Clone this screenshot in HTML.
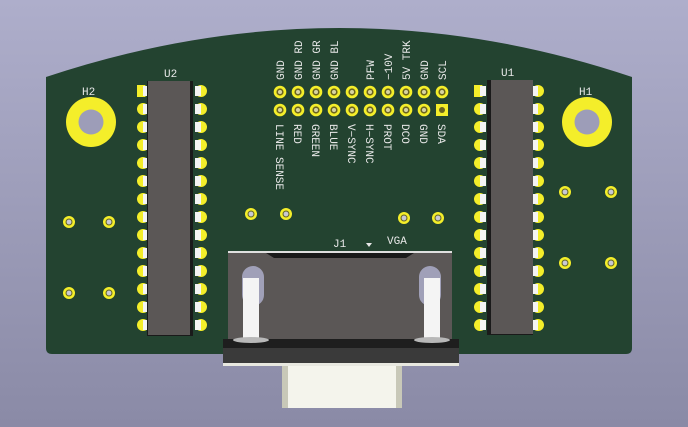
<!DOCTYPE html>
<html><head><meta charset="utf-8"><style>
html,body{margin:0;padding:0;width:688px;height:427px;overflow:hidden}
body{background:linear-gradient(#aeaecb,#8a8aa6)}
svg{display:block}
text{font-family:"Liberation Mono","DejaVu Sans Mono",monospace;font-size:11px;fill:#e8e8e8}
</style></head><body>
<svg width="688" height="427" viewBox="0 0 688 427" xmlns="http://www.w3.org/2000/svg">
<defs>
<g id="via"><circle r="6" fill="#f4ee2a"/><circle r="3.5" fill="#6a6a2a"/><circle r="2.4" fill="#c8c8d4"/></g>
<g id="hp"><circle r="6.3" fill="#f4ee2a"/><circle r="3.6" fill="#6b6420"/><circle r="2" fill="#d8d4a0"/></g>
<g id="pinL"><circle cx="-1" cy="0" r="6" fill="#f4ee2a"/><rect x="-1" y="-5" width="6" height="10" fill="#f4f4f4"/></g>
<g id="pinR"><circle cx="1" cy="0" r="6" fill="#f4ee2a"/><rect x="-5" y="-5" width="6" height="10" fill="#f4f4f4"/></g>
</defs>
<path d="M46,77 Q340,-21 632,77 L632,348 Q632,354 626,354 L52,354 Q46,354 46,348 Z" fill="#234330"/>
<circle cx="91" cy="122" r="25" fill="#f4ee2a"/><circle cx="91" cy="122" r="12.5" fill="#9d9db8"/>
<circle cx="587" cy="122" r="25" fill="#f4ee2a"/><circle cx="587" cy="122" r="12.5" fill="#9d9db8"/>
<text x="82" y="95">H2</text><text x="579" y="95">H1</text>
<use href="#via" x="69" y="222"/><use href="#via" x="109" y="222"/><use href="#via" x="69" y="293"/><use href="#via" x="109" y="293"/>
<use href="#via" x="565" y="192"/><use href="#via" x="611" y="192"/><use href="#via" x="565" y="263"/><use href="#via" x="611" y="263"/>
<use href="#via" x="251" y="214"/><use href="#via" x="286" y="214"/><use href="#via" x="404" y="218"/><use href="#via" x="438" y="218"/>
<!-- U2 -->
<g id="u2L">
<use href="#pinL" x="144" y="91"/><use href="#pinL" x="144" y="109"/><use href="#pinL" x="144" y="127"/><use href="#pinL" x="144" y="145"/><use href="#pinL" x="144" y="163"/><use href="#pinL" x="144" y="181"/><use href="#pinL" x="144" y="199"/><use href="#pinL" x="144" y="217"/><use href="#pinL" x="144" y="235"/><use href="#pinL" x="144" y="253"/><use href="#pinL" x="144" y="271"/><use href="#pinL" x="144" y="289"/><use href="#pinL" x="144" y="307"/><use href="#pinL" x="144" y="325"/>
</g>
<g id="u2R">
<use href="#pinR" x="200" y="91"/><use href="#pinR" x="200" y="109"/><use href="#pinR" x="200" y="127"/><use href="#pinR" x="200" y="145"/><use href="#pinR" x="200" y="163"/><use href="#pinR" x="200" y="181"/><use href="#pinR" x="200" y="199"/><use href="#pinR" x="200" y="217"/><use href="#pinR" x="200" y="235"/><use href="#pinR" x="200" y="253"/><use href="#pinR" x="200" y="271"/><use href="#pinR" x="200" y="289"/><use href="#pinR" x="200" y="307"/><use href="#pinR" x="200" y="325"/>
</g>
<rect x="137" y="85" width="8" height="12" fill="#f4ee2a"/><rect x="143" y="86" width="6" height="10" fill="#f4f4f4"/>
<rect x="147" y="81" width="46" height="255" fill="#1a1a1a"/>
<rect x="148" y="81" width="42" height="254" fill="#5b5756"/>
<text x="164" y="77">U2</text>
<!-- U1 -->
<use href="#u2L" transform="translate(337,0)"/>
<use href="#u2R" transform="translate(337,0)"/>
<rect x="474" y="85" width="8" height="12" fill="#f4ee2a"/><rect x="480" y="86" width="6" height="10" fill="#f4f4f4"/>
<rect x="487" y="80" width="46" height="255" fill="#1a1a1a"/>
<rect x="491" y="80" width="42" height="254" fill="#5b5756"/>
<text x="501" y="76">U1</text>
<!-- header -->
<g>
<use href="#hp" x="280" y="92"/><use href="#hp" x="298" y="92"/><use href="#hp" x="316" y="92"/><use href="#hp" x="334" y="92"/><use href="#hp" x="352" y="92"/><use href="#hp" x="370" y="92"/><use href="#hp" x="388" y="92"/><use href="#hp" x="406" y="92"/><use href="#hp" x="424" y="92"/><use href="#hp" x="442" y="92"/>
<use href="#hp" x="280" y="110"/><use href="#hp" x="298" y="110"/><use href="#hp" x="316" y="110"/><use href="#hp" x="334" y="110"/><use href="#hp" x="352" y="110"/><use href="#hp" x="370" y="110"/><use href="#hp" x="388" y="110"/><use href="#hp" x="406" y="110"/><use href="#hp" x="424" y="110"/>
<rect x="436" y="104" width="12" height="12" fill="#f4ee2a"/><circle cx="442" cy="110" r="3" fill="#6b6420"/>
</g>
<g>
<text transform="translate(284,80) rotate(-90)">GND</text>
<text transform="translate(302,80) rotate(-90)">GND RD</text>
<text transform="translate(320,80) rotate(-90)">GND GR</text>
<text transform="translate(338,80) rotate(-90)">GND BL</text>
<text transform="translate(374,80) rotate(-90)">PFW</text>
<text transform="translate(392,80) rotate(-90)">−10V</text>
<text transform="translate(410,80) rotate(-90)">5V TRK</text>
<text transform="translate(428,80) rotate(-90)">GND</text>
<text transform="translate(446,80) rotate(-90)">SCL</text>
<text transform="translate(276,124) rotate(90)">LINE SENSE</text>
<text transform="translate(294,124) rotate(90)">RED</text>
<text transform="translate(312,124) rotate(90)">GREEN</text>
<text transform="translate(330,124) rotate(90)">BLUE</text>
<text transform="translate(348,124) rotate(90)">V−SYNC</text>
<text transform="translate(366,124) rotate(90)">H−SYNC</text>
<text transform="translate(384,124) rotate(90)">PROT</text>
<text transform="translate(402,124) rotate(90)">DCO</text>
<text transform="translate(420,124) rotate(90)">GND</text>
<text transform="translate(438,124) rotate(90)">SDA</text>
</g>
<!-- VGA connector -->
<text x="333" y="247">J1</text><text x="387" y="244">VGA</text>
<path d="M366,243 L372,243 L369,247 Z" fill="#e8e8e8"/>
<rect x="282" y="362" width="120" height="46" rx="3" fill="#f4f4ec"/>
<rect x="282" y="362" width="6" height="46" fill="#c8c8b8"/><rect x="396" y="362" width="6" height="46" fill="#c8c8b8"/>
<rect x="228" y="251" width="224" height="100" fill="#5b5756"/>
<rect x="228" y="251" width="224" height="2" fill="#e0e0e0"/>
<path d="M266,253 L414,253 L406,258 L274,258 Z" fill="#1a1a1a"/>
<rect x="242" y="266" width="22" height="40" rx="11" fill="#a0a0b8"/>
<rect x="419" y="266" width="22" height="40" rx="11" fill="#a0a0b8"/>
<rect x="243" y="278" width="16" height="62" fill="#f4f4f4"/>
<rect x="424" y="278" width="16" height="62" fill="#f4f4f4"/>
<rect x="223" y="339" width="236" height="26" fill="#1e1e1e"/>
<rect x="223" y="348" width="236" height="15" fill="#3a3a3a"/>
<rect x="223" y="363" width="236" height="3" fill="#e8e8e0"/>
<ellipse cx="251" cy="340" rx="18" ry="3" fill="#b8b8b8"/>
<ellipse cx="432" cy="340" rx="18" ry="3" fill="#b8b8b8"/>
</svg>
</body></html>
